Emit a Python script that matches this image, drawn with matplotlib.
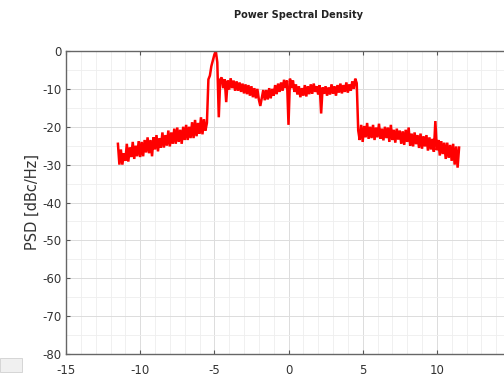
import numpy as np
import matplotlib
matplotlib.use('Agg')
import matplotlib.pyplot as plt
from matplotlib.ticker import MultipleLocator
from matplotlib.patches import Rectangle

plt.rcParams['axes.unicode_minus'] = False

# frequency bins (MHz), 0.1 step from -11.5 to 11.5
freq = np.linspace(-11.5, 11.5, 231)

# PSD values (dBc/Hz)
psd_low = [
    -24.5, -30.0, -26.0, -30.0, -27.0, -29.0, -24.5, -29.2, -25.5, -28.0,
    -24.0, -28.5, -25.0, -27.8, -23.8, -28.0, -24.0, -27.8, -23.5, -26.8,
    -22.8, -27.0, -23.5, -27.8, -22.8, -26.0, -22.2, -26.5, -23.0, -25.5,
    -21.5, -25.5, -22.2, -25.0, -21.0, -25.2, -21.5, -24.5, -20.5, -24.5,
    -20.2, -24.0, -20.8, -24.5, -20.0, -23.5, -19.5, -23.5, -20.0, -23.0,
    -18.8, -23.0, -18.2, -22.5, -19.0, -21.8, -17.5, -22.0, -18.0, -21.0,
]
psd_peak = [-19.0, -7.5, -6.5, -4.0, -2.5, -1.0, 0.0, -3.0, -17.5, -7.5]
psd_band = [
    -7.0, -9.8, -7.5, -13.5, -7.8, -10.2, -7.2, -9.8, -7.8, -10.5,
    -8.0, -10.5, -8.3, -10.8, -8.6, -11.2, -8.8, -11.4, -9.0, -11.8,
    -9.3, -12.2, -9.8, -12.5, -10.0, -12.8, -14.5, -12.4, -10.3, -13.0,
    -10.3, -12.8, -9.8, -12.5, -10.0, -11.8, -9.0, -11.4, -8.6, -10.8,
    -8.3, -10.5, -7.6, -9.8, -7.8, -19.5, -7.3, -9.8, -7.8, -10.8,
    -8.8, -11.5, -9.3, -12.2, -9.8, -11.8, -9.0, -12.0, -9.3, -11.4,
    -8.8, -11.3, -8.6, -10.8, -9.3, -11.5, -9.0, -16.5, -9.6, -11.3,
    -9.3, -11.8, -9.6, -11.5, -8.8, -11.3, -9.3, -11.8, -9.0, -11.0,
    -8.6, -11.2, -9.0, -10.8, -8.3, -11.0, -8.8, -10.5, -8.0, -10.0,
    -7.3, -8.5,
]
psd_high = [
    -21.0, -23.5, -19.5, -24.0, -19.8, -22.8, -19.0, -23.2, -20.0, -23.0,
    -19.5, -23.5, -20.2, -22.8, -19.2, -23.2, -20.5, -23.6, -20.0, -23.0,
    -20.2, -24.0, -19.5, -23.5, -20.8, -24.2, -20.5, -23.4, -21.0, -24.5,
    -21.2, -24.8, -20.8, -24.0, -20.2, -25.0, -21.8, -25.2, -21.5, -24.6,
    -22.2, -25.6, -21.8, -25.8, -22.5, -25.2, -22.2, -26.3, -22.8, -26.0,
    -23.2, -26.6, -18.5, -26.2, -23.5, -27.6, -23.8, -27.2, -24.2, -28.5,
    -24.2, -28.2, -24.8, -29.0, -24.5, -30.0, -25.2, -30.8, -25.5,
]
psd = np.array(psd_low + psd_peak + psd_band + psd_high)

fig = plt.figure(figsize=(5.04, 3.77), dpi=100)
ax = fig.add_axes([66/504, 1-354/377, (511-66)/504, (354-51)/377])

ax.plot(freq, psd, color='#ff0000', lw=1.8, solid_joinstyle='miter')

ax.set_xlim(-15, 15)
ax.set_ylim(-80, 0)
ax.xaxis.set_major_locator(MultipleLocator(5))
ax.xaxis.set_minor_locator(MultipleLocator(1))
ax.yaxis.set_major_locator(MultipleLocator(10))
ax.yaxis.set_minor_locator(MultipleLocator(5))
ax.grid(which='major', color='#dcdcdc', lw=0.7)
ax.grid(which='minor', color='#eeeeee', lw=0.6)
ax.set_axisbelow(True)

ax.tick_params(which='major', direction='in', length=3, width=0.8, color='#555555',
               labelsize=8.5, labelcolor='#333333', top=True)
ax.tick_params(axis='x', pad=7)
ax.tick_params(axis='y', pad=3)
ax.tick_params(which='minor', length=0)
for s in ['left', 'bottom', 'top']:
    ax.spines[s].set_color('#666666')
    ax.spines[s].set_linewidth(1.0)
ax.spines['right'].set_visible(False)

ax.set_ylabel('PSD [dBc/Hz]', fontsize=10.5, color='#333333', labelpad=2)
fig.text(299/504, 1-15/377, 'Power Spectral Density', ha='center', va='center',
         fontsize=7, fontweight='bold', color='#222222')

# faint window widget in the lower-left corner of the screenshot
fig.patches.append(Rectangle((0, 5/377), 22/504, 14/377, transform=fig.transFigure,
                             facecolor='#f0f0f0', edgecolor='#d0d0d0', lw=0.6))

fig.savefig('out.png', dpi=100)
